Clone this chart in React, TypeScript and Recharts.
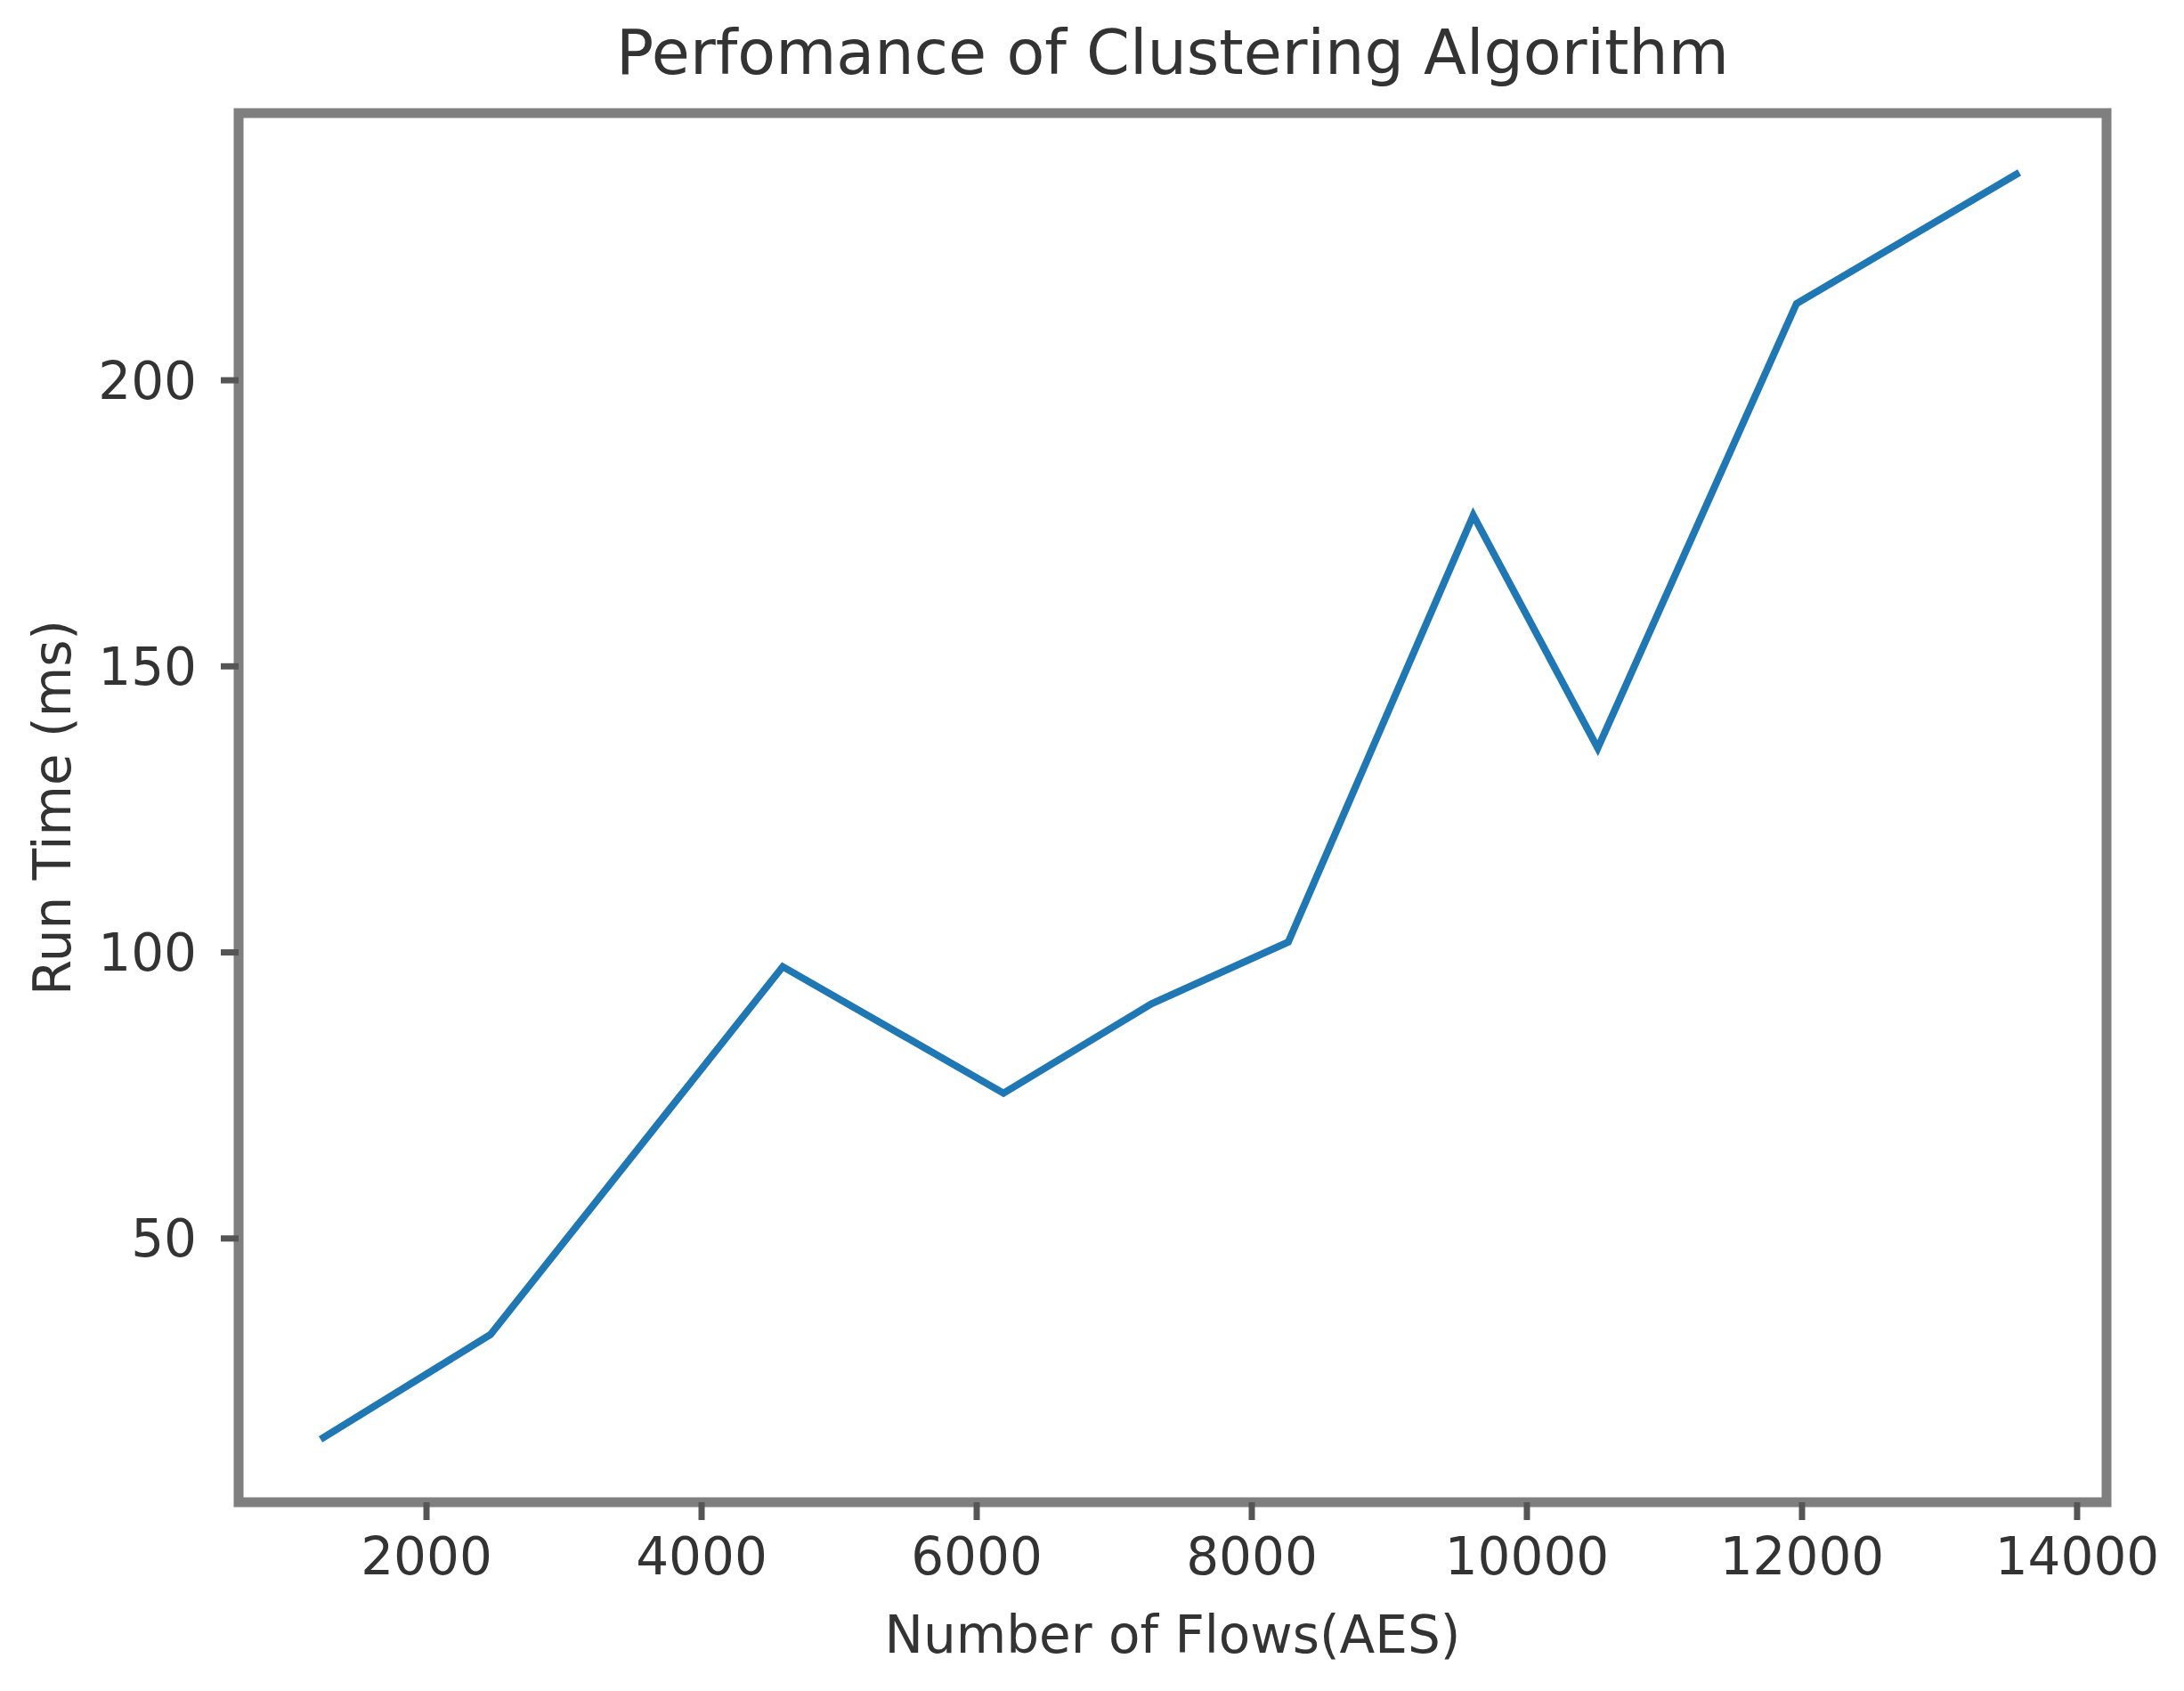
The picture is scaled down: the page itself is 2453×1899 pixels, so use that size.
import React from 'react';
import { LineChart, Line, XAxis, YAxis, ReferenceArea, Label } from 'recharts';

// values
const flows = [1230, 2465, 4590, 6195, 7270, 8265, 9610, 10515, 11960, 13580];
const runTimes = [14.9, 33.2, 97.5, 75.4, 91.0, 101.8, 176.4, 135.7, 213.4, 236.3];
const xTicks = [2000, 4000, 6000, 8000, 10000, 12000, 14000];
const yTicks = [50, 100, 150, 200];

const xDomain: [number, number] = [634, 14214];
const yDomain: [number, number] = [3.9, 246.7];

const data = flows.map((f, i) => ({ flows: f, runTime: runTimes[i] }));

const font = '"DejaVu Sans", sans-serif';
const textColor = '#333';

const App: React.FC = () => {
  return (
    <div style={{ position: 'absolute', left: 0, top: 0, width: 2453, height: 1899, background: '#fff' }}>
      <div
        style={{
          position: 'absolute',
          left: 268,
          width: 2098,
          top: 16,
          lineHeight: '86px',
          fontSize: 70,
          fontFamily: font,
          color: textColor,
          textAlign: 'center',
        }}
      >
        Perfomance of Clustering Algorithm
      </div>
      <LineChart
        width={2453}
        height={1899}
        data={data}
        margin={{ top: 127, right: 87, bottom: 0, left: 0 }}
      >
        <XAxis
          dataKey="flows"
          type="number"
          domain={xDomain}
          ticks={xTicks}
          allowDataOverflow
          height={212}
          axisLine={false}
          tickSize={20}
          tickMargin={20}
          tickLine={{ stroke: '#555', strokeWidth: 7 }}
          tick={{ fill: textColor, fontSize: 58, fontFamily: font }}
        >
          <Label
            value="Number of Flows(AES)"
            position="center"
            dy={42}
            style={{ fill: textColor, fontSize: 58, fontFamily: font }}
          />
        </XAxis>
        <YAxis
          type="number"
          domain={yDomain}
          ticks={yTicks}
          allowDataOverflow
          width={268}
          axisLine={false}
          tickSize={20}
          tickMargin={27}
          tickLine={{ stroke: '#555', strokeWidth: 7 }}
          tick={{ fill: textColor, fontSize: 58, fontFamily: font }}
        >
          <Label
            value="Run Time (ms)"
            angle={-90}
            position="center"
            dx={-76}
            style={{ fill: textColor, fontSize: 58, fontFamily: font, textAnchor: 'middle' }}
          />
        </YAxis>
        <ReferenceArea
          x1={xDomain[0]}
          x2={xDomain[1]}
          y1={yDomain[0]}
          y2={yDomain[1]}
          ifOverflow="visible"
          fill="none"
          fillOpacity={0}
          stroke="#7f7f7f"
          strokeWidth={11}
        />
        <Line
          type="linear"
          dataKey="runTime"
          stroke="#1f77b4"
          strokeWidth={8}
          dot={false}
          activeDot={false}
          isAnimationActive={false}
        />
      </LineChart>
    </div>
  );
};

export default App;
